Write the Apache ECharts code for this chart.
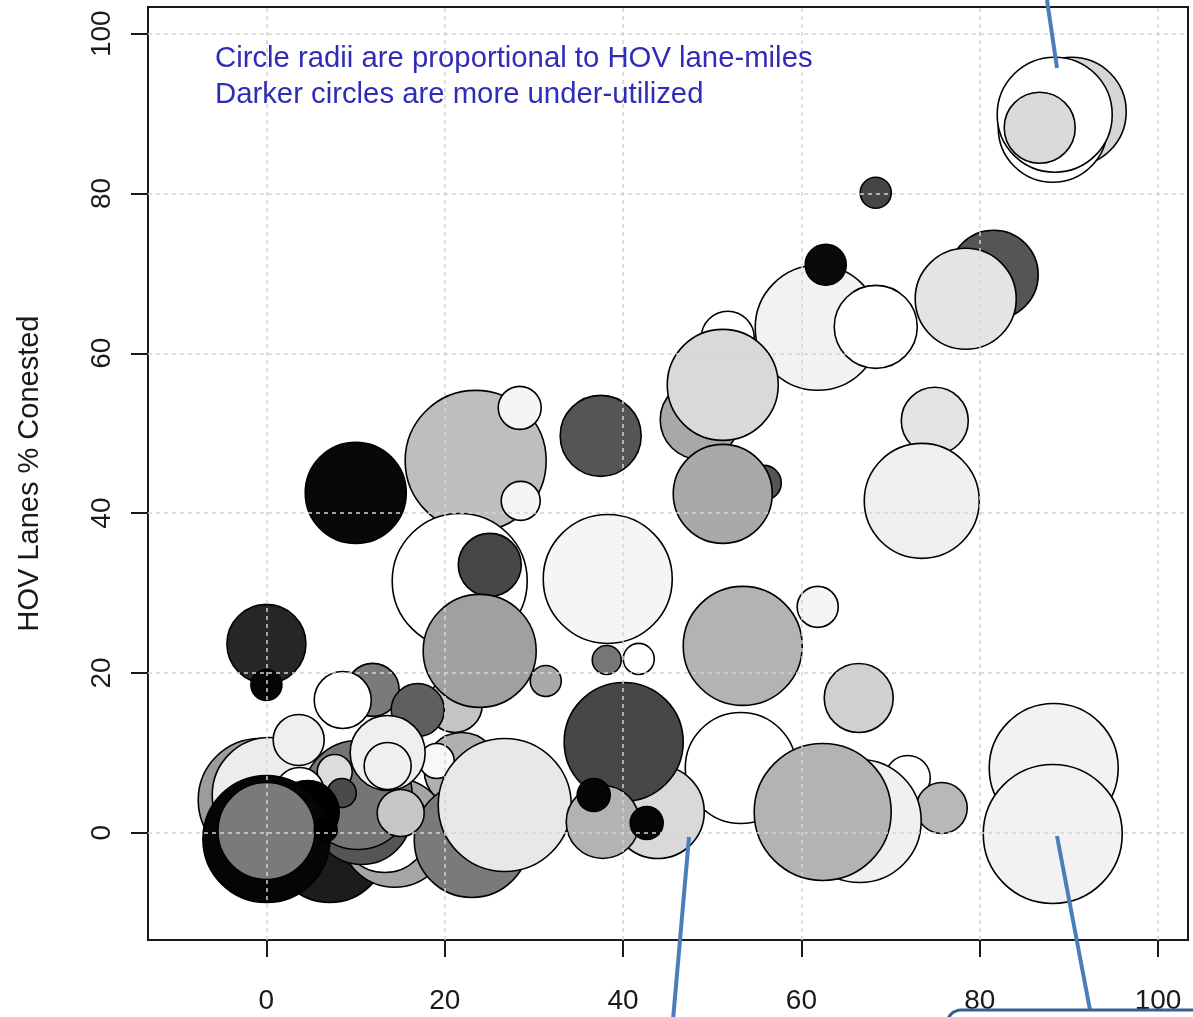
<!DOCTYPE html>
<html><head><meta charset="utf-8">
<script src="https://cdn.jsdelivr.net/npm/echarts@6/dist/echarts.min.js"></script>
<style>html,body{margin:0;padding:0;background:#fff}#chart{width:1193px;height:1017px}</style>
</head><body><div id="chart"></div>
<script>
// Tick labels
const xTicks = [0, 20, 40, 60, 80, 100];
const yTicks = [0, 20, 40, 60, 80, 100];

// Circle data, in drawing order (later circles lie on top)
const xVals = [90.32, 88.19, 88.41, 86.73, 68.34, 51.74, 61.83, 62.73, 68.34, 81.57,
  78.43, 48.60, 51.18, 55.78, 51.18, 74.96, 73.50, 61.83, 53.42, 23.47,
  28.41, 28.52, 10.02, 37.49, 21.68, 25.05, 38.28, 21.12, 23.92, 31.33,
  38.17, 41.76, 0.00, 0.00, 11.92, 8.56, 16.97, -0.75, 0.37, 7.10,
  14.39, 13.27, 10.69, 10.24, 7.66, 8.45, 3.73, 4.63, 0.00, 0.00,
  6.65, 3.62, 21.90, 19.10, 13.60, 13.60, 23.03, 15.06, 26.73, 53.20,
  43.89, 40.07, 37.72, 36.71, 42.65, 71.93, 75.74, 66.54, 62.39, 66.43,
  88.30, 88.19];
const yVals = [90.23, 88.23, 89.86, 88.23, 80.09, 61.94, 63.19, 71.08, 63.31, 69.83,
  66.82, 51.67, 56.05, 43.78, 42.41, 51.55, 41.53, 28.26, 23.38, 46.54,
  53.17, 41.53, 42.53, 49.67, 31.51, 33.52, 31.76, 15.99, 22.75, 18.99,
  21.62, 21.75, 23.63, 18.49, 17.87, 16.61, 15.36, 4.09, 4.72, -1.54,
  0.00, 0.59, 2.22, 4.72, 7.60, 4.97, 5.10, 2.59, -0.79, 0.21,
  0.34, 11.61, 7.85, 8.98, 9.98, 8.35, -0.91, 2.47, 3.47, 8.10,
  2.59, 11.36, 1.34, 4.72, 1.21, 6.85, 3.09, 1.46, 2.59, 16.86,
  8.10, -0.16];
// relative HOV lane-miles (circle radius units)
const laneMiles = [55, 55, 58, 36, 16, 27, 63, 21, 42, 45,
  51, 40, 56, 18, 50, 34, 58, 21, 60, 71,
  22, 20, 51, 41, 68, 32, 65, 28, 57, 16,
  15, 16, 40, 16, 27, 29, 27, 62, 58, 58,
  55, 45, 50, 55, 18, 15, 25, 32, 64, 49,
  12, 26, 38, 18, 38, 24, 58, 24, 67, 56,
  47, 60, 37, 17, 17, 23, 26, 62, 69, 35,
  65, 70];
// utilization shade (0 = black, most under-utilized; 255 = white)
const shade = [214, 255, 255, 217, 69, 255, 242, 10, 255, 85,
  228, 168, 217, 85, 169, 227, 239, 245, 179, 190,
  245, 245, 8, 85, 255, 71, 245, 196, 160, 168,
  119, 255, 38, 5, 122, 255, 95, 156, 236, 28,
  166, 255, 85, 117, 220, 74, 255, 0, 5, 122,
  0, 239, 176, 248, 239, 240, 122, 198, 232, 255,
  217, 71, 179, 5, 5, 255, 184, 240, 179, 208,
  242, 242];

const noteLines = ['Circle radii are proportional to HOV lane-miles', 'Darker circles are more under-utilized'];
const yTitle = 'HOV Lanes % Conested';

const FONT = 'Liberation Sans, Arial, sans-serif';
function grayHex(g) { const h = g.toString(16).padStart(2, '0'); return '#' + h + h + h; }

const circleData = xVals.map((x, i) => ({
  value: [x, yVals[i], laneMiles[i]],
  itemStyle: { color: grayHex(shade[i]) }
}));

const gridLines = xTicks.map(v => ({ xAxis: v })).concat(yTicks.map(v => ({ yAxis: v })));

const chart = echarts.init(document.getElementById('chart'), null, { renderer: 'canvas' });
chart.setOption({
  animation: false,
  backgroundColor: '#ffffff',
  grid: { left: 148, top: 7, width: 1040, height: 933, show: true, borderColor: '#1a1a1a', borderWidth: 2, backgroundColor: 'transparent' },
  xAxis: {
    type: 'value', min: -13.28, max: 103.36,
    axisLine: { show: false, onZero: false },
    axisTick: { show: true, customValues: xTicks, length: 17, lineStyle: { color: '#1a1a1a', width: 2 } },
    axisLabel: { customValues: xTicks, fontSize: 28, fontFamily: FONT, color: '#1a1a1a', margin: 47 },
    splitLine: { show: false }
  },
  yAxis: {
    type: 'value', min: -13.43, max: 103.34,
    axisLine: { show: false, onZero: false },
    axisTick: { show: true, customValues: yTicks, length: 17, lineStyle: { color: '#1a1a1a', width: 2 } },
    axisLabel: { customValues: yTicks, fontSize: 28, fontFamily: FONT, color: '#1a1a1a', margin: 32, rotate: 90 },
    splitLine: { show: false },
    name: yTitle, nameLocation: 'middle', nameGap: 104, nameRotate: 90,
    nameTextStyle: { fontSize: 29, fontFamily: FONT, color: '#1a1a1a' }
  },
  series: [
    {
      type: 'scatter', silent: true, z: 2,
      data: circleData,
      symbol: 'circle',
      symbolSize: v => v[2] * 2 - 1,
      itemStyle: { borderColor: '#000', borderWidth: 1.6, opacity: 1 }
    },
    {
      type: 'scatter', silent: true, z: 3, data: [],
      markLine: {
        silent: true, symbol: ['none', 'none'], label: { show: false },
        lineStyle: { color: '#d3d3d3', width: 1.5, type: [4, 4] },
        emphasis: { disabled: true },
        data: gridLines
      }
    }
  ],
  graphic: [
    { type: 'text', left: 215, top: 41, z: 10,
      style: { text: noteLines.join('\n'), fill: '#2f2cb8', font: '29.3px ' + FONT, lineHeight: 36 } },
    { type: 'line', z: 10, shape: { x1: 1047, y1: 0, x2: 1057, y2: 68 }, style: { stroke: '#4a7ebb', lineWidth: 4 } },
    { type: 'line', z: 10, shape: { x1: 689, y1: 837, x2: 673, y2: 1020 }, style: { stroke: '#4a7ebb', lineWidth: 4 } },
    { type: 'line', z: 10, shape: { x1: 1057, y1: 836, x2: 1090, y2: 1010 }, style: { stroke: '#4a7ebb', lineWidth: 4 } },
    { type: 'rect', z: 11, shape: { x: 947, y: 1010, width: 300, height: 60, r: 14 }, style: { fill: '#ffffff', stroke: '#3b5f8f', lineWidth: 3 } }
  ]
});
</script>
</body></html>
